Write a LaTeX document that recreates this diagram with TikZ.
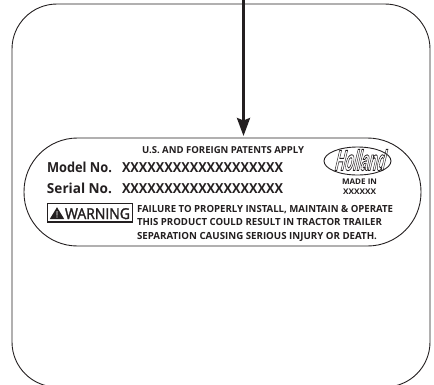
\documentclass[tikz,border=0pt]{standalone}
\usepackage{fontspec}
\usepackage{graphicx}
\usetikzlibrary{arrows.meta}
\setmainfont{Open Sans}
\definecolor{ink}{HTML}{231F20}
\newcommand{\fitline}[3]{\resizebox{#1pt}{\height}{\fontsize{#2pt}{#2pt}\selectfont #3}}
\newcommand{\outlined}[1]{\special{pdf:code q 1 Tr 0.3 w}#1\special{pdf:code Q}}
\newcommand{\thickened}[1]{\special{pdf:code q 2 Tr 0.25 w}#1\special{pdf:code Q}}
\tikzset{
  frame/.style={draw=ink,line width=0.9pt},
  txt/.style={inner sep=0pt,outer sep=0pt,anchor=base west,text=ink,font=\bfseries},
  pointer/.style={draw=ink,line width=2.9pt,-{Stealth[length=18pt,width=13pt,inset=2.5pt]}}
}
\begin{document}
\begin{tikzpicture}[x=1pt,y=-1pt]
\useasboundingbox (0,0) rectangle (434,384);
\clip (0,0) rectangle (434,384);
\node[frame,rounded corners=45pt,minimum width=418pt,minimum height=383pt,inner sep=0pt] (outer) at (221,195.5) {};
\node[frame,rounded corners=53.5pt,minimum width=397pt,minimum height=108pt,inner sep=0pt] (plate) at (222.5,192) {};
\coordinate (arrowtop) at (243.5,-2);
\coordinate (arrowtip) at (243.5,136);
\draw[pointer] (arrowtop) -- (arrowtip);
\node[txt] (patents) at (142,153) {\fitline{162}{9.6}{U.S. AND FOREIGN PATENTS APPLY}};
\node[txt] (modellab) at (47,172) {\fitline{65}{13.8}{Model No.}};
\node[txt] (modelval) at (122,172) {\fitline{161}{13.8}{XXXXXXXXXXXXXXXXXXX}};
\node[txt] (seriallab) at (47,193) {\fitline{65}{13.8}{Serial No.}};
\node[txt] (serialval) at (122,193) {\fitline{161}{13.8}{XXXXXXXXXXXXXXXXXXX}};
\node[draw=ink,line width=1.5pt,minimum width=85pt,minimum height=18.5pt,inner sep=0pt] (warnbox) at (90,212.5) {};
\fill[ink] (57,207.2) -- (64.2,219) -- (49.8,219) -- cycle;
\fill[white] (56.5,211) -- (57.5,211) -- (57.4,215.5) -- (56.6,215.5) -- cycle;
\fill[white] (57,217) circle (0.7);
\node[txt,font=\normalfont] (warning) at (65,219) {\fitline{65}{15}{\thickened{WARNING}}};
\node[txt] (line1) at (137,212) {\fitline{256}{9.8}{FAILURE TO PROPERLY INSTALL, MAINTAIN \& OPERATE}};
\node[txt] (line2) at (137,225) {\fitline{245}{9.8}{THIS PRODUCT COULD RESULT IN TRACTOR TRAILER}};
\node[txt] (line3) at (137,239) {\fitline{240}{9.8}{SEPARATION CAUSING SERIOUS INJURY OR DEATH.}};
\draw[ink,line width=0.9pt] (357.5,161) ellipse (33.5 and 14);
\node[inner sep=0pt,text=ink] (logo) at (359,160) {\resizebox{50pt}{21pt}{\fontspec{Liberation Sans}[FakeSlant=0.5]\bfseries\outlined{Holland}}};
\node[txt] (made) at (342,184.5) {\fitline{35}{7.8}{MADE IN}};
\node[txt] (country) at (343,194) {\fitline{33}{7.8}{XXXXXX}};
\end{tikzpicture}
\end{document}
